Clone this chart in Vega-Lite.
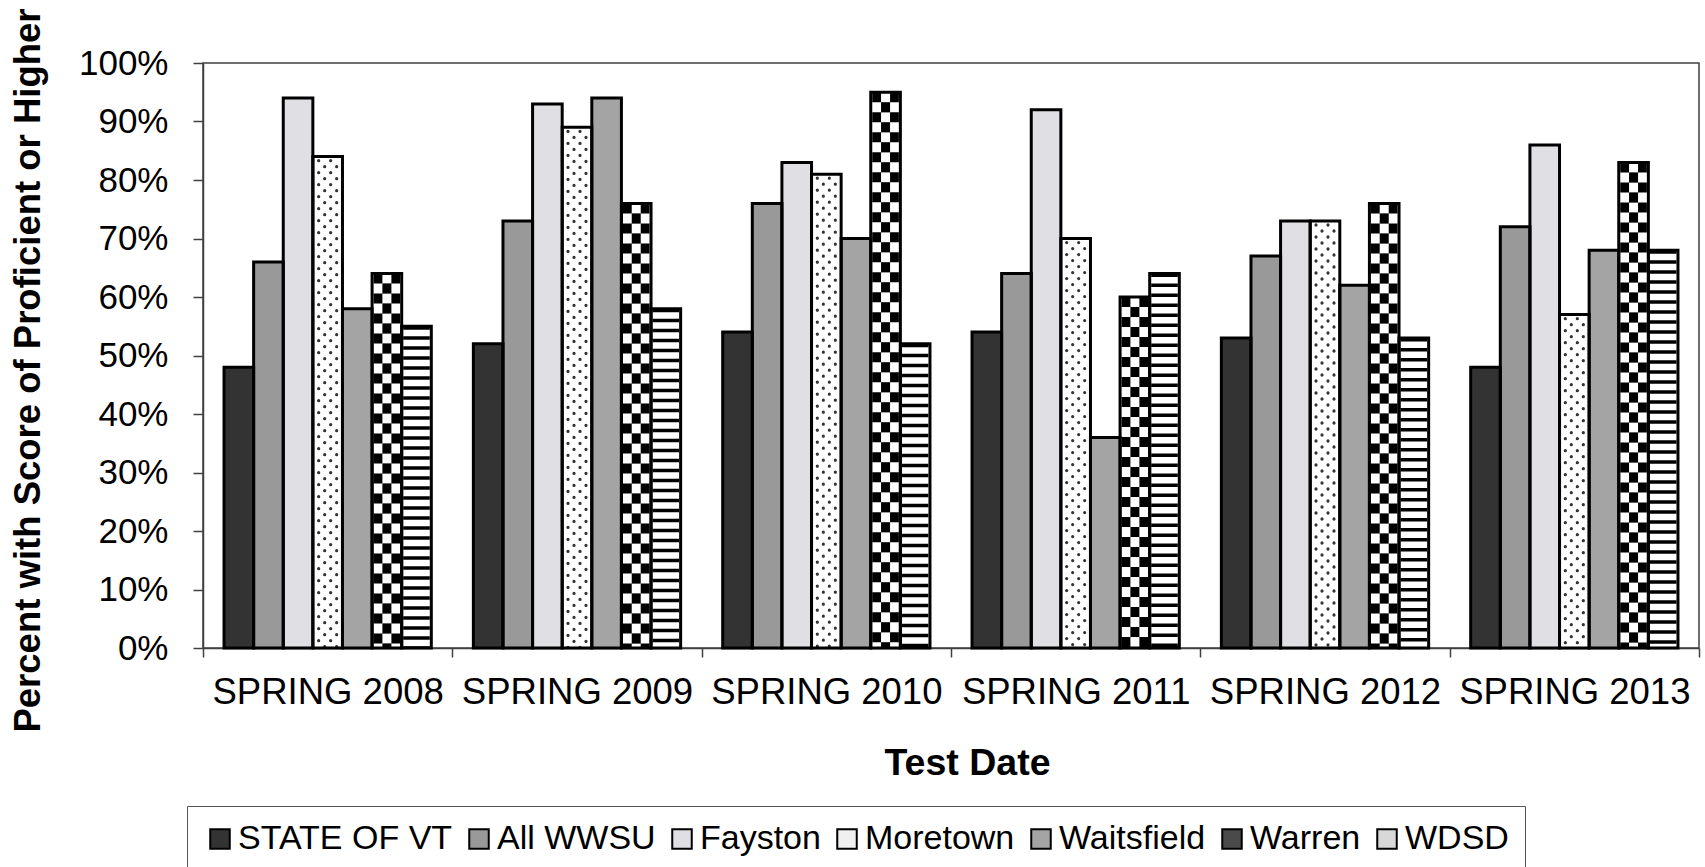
{
  "$schema": "https://vega.github.io/schema/vega-lite/v6.json",
  "autosize": "none",
  "width": 1496,
  "height": 585,
  "padding": {"left": 203, "top": 63, "right": 6, "bottom": 219},
  "background": "white",
  "config": {
    "font": "Liberation Sans",
    "view": {"stroke": "#404040", "strokeWidth": 1.5}
  },
  "data": {
    "values": [
      {"date": "SPRING 2008", "district": "STATE OF VT", "pct": 48},
      {"date": "SPRING 2008", "district": "All WWSU", "pct": 66},
      {"date": "SPRING 2008", "district": "Fayston", "pct": 94},
      {"date": "SPRING 2008", "district": "Moretown", "pct": 84},
      {"date": "SPRING 2008", "district": "Waitsfield", "pct": 58},
      {"date": "SPRING 2008", "district": "Warren", "pct": 64},
      {"date": "SPRING 2008", "district": "WDSD", "pct": 55},
      {"date": "SPRING 2009", "district": "STATE OF VT", "pct": 52},
      {"date": "SPRING 2009", "district": "All WWSU", "pct": 73},
      {"date": "SPRING 2009", "district": "Fayston", "pct": 93},
      {"date": "SPRING 2009", "district": "Moretown", "pct": 89},
      {"date": "SPRING 2009", "district": "Waitsfield", "pct": 94},
      {"date": "SPRING 2009", "district": "Warren", "pct": 76},
      {"date": "SPRING 2009", "district": "WDSD", "pct": 58},
      {"date": "SPRING 2010", "district": "STATE OF VT", "pct": 54},
      {"date": "SPRING 2010", "district": "All WWSU", "pct": 76},
      {"date": "SPRING 2010", "district": "Fayston", "pct": 83},
      {"date": "SPRING 2010", "district": "Moretown", "pct": 81},
      {"date": "SPRING 2010", "district": "Waitsfield", "pct": 70},
      {"date": "SPRING 2010", "district": "Warren", "pct": 95},
      {"date": "SPRING 2010", "district": "WDSD", "pct": 52},
      {"date": "SPRING 2011", "district": "STATE OF VT", "pct": 54},
      {"date": "SPRING 2011", "district": "All WWSU", "pct": 64},
      {"date": "SPRING 2011", "district": "Fayston", "pct": 92},
      {"date": "SPRING 2011", "district": "Moretown", "pct": 70},
      {"date": "SPRING 2011", "district": "Waitsfield", "pct": 36},
      {"date": "SPRING 2011", "district": "Warren", "pct": 60},
      {"date": "SPRING 2011", "district": "WDSD", "pct": 64},
      {"date": "SPRING 2012", "district": "STATE OF VT", "pct": 53},
      {"date": "SPRING 2012", "district": "All WWSU", "pct": 67},
      {"date": "SPRING 2012", "district": "Fayston", "pct": 73},
      {"date": "SPRING 2012", "district": "Moretown", "pct": 73},
      {"date": "SPRING 2012", "district": "Waitsfield", "pct": 62},
      {"date": "SPRING 2012", "district": "Warren", "pct": 76},
      {"date": "SPRING 2012", "district": "WDSD", "pct": 53},
      {"date": "SPRING 2013", "district": "STATE OF VT", "pct": 48},
      {"date": "SPRING 2013", "district": "All WWSU", "pct": 72},
      {"date": "SPRING 2013", "district": "Fayston", "pct": 86},
      {"date": "SPRING 2013", "district": "Moretown", "pct": 57},
      {"date": "SPRING 2013", "district": "Waitsfield", "pct": 68},
      {"date": "SPRING 2013", "district": "Warren", "pct": 83},
      {"date": "SPRING 2013", "district": "WDSD", "pct": 68}
    ]
  },
  "encoding": {
    "x": {
      "field": "date",
      "type": "nominal",
      "sort": null,
      "scale": {"type": "band", "paddingInner": 0, "paddingOuter": 0},
      "axis": {
        "title": "Test Date",
        "titleFontSize": 37.5,
        "titleFontWeight": "bold",
        "titleColor": "black",
        "titleX": 764,
        "titleY": 126,
        "titleBaseline": "alphabetic",
        "labelAngle": 0,
        "labelFontSize": 36.5,
        "labelColor": "black",
        "labelPadding": 17,
        "labelLimit": 400,
        "tickBand": "extent",
        "tickSize": 9,
        "tickColor": "#404040",
        "tickWidth": 1.5,
        "domainColor": "#404040",
        "domainWidth": 1.5
      }
    },
    "y": {
      "field": "pct",
      "type": "quantitative",
      "scale": {"domain": [0, 100]},
      "axis": {
        "title": "Percent with Score of Proficient or Higher",
        "titleFontSize": 36.5,
        "titleFontWeight": "bold",
        "titleColor": "black",
        "titleX": -175,
        "titleY": 307,
        "titleBaseline": "middle",
        "titleAngle": -90,
        "titleLimit": 1000,
        "values": [0, 10, 20, 30, 40, 50, 60, 70, 80, 90, 100],
        "labelExpr": "datum.value + '%'",
        "labelFontSize": 35,
        "labelColor": "black",
        "labelPadding": 25,
        "tickSize": 10,
        "tickColor": "#404040",
        "tickWidth": 1.5,
        "domainColor": "#404040",
        "domainWidth": 1.5,
        "grid": false
      }
    }
  },
  "layer": [
    {
      "mark": {"type": "bar", "strokeWidth": 0},
      "encoding": {
        "xOffset": {
          "field": "district", "type": "nominal",
          "sort": ["STATE OF VT", "All WWSU", "Fayston", "Moretown", "Waitsfield", "Warren", "WDSD"],
          "scale": {"type": "band", "paddingInner": 0, "paddingOuter": 0.71}
        },
        "fill": {
          "field": "district",
          "type": "nominal",
          "sort": ["STATE OF VT", "All WWSU", "Fayston", "Moretown", "Waitsfield", "Warren", "WDSD"],
          "scale": {
            "domain": ["STATE OF VT", "All WWSU", "Fayston", "Moretown", "Waitsfield", "Warren", "WDSD"],
            "range": ["#333333", "#999999", "#e0e0e4", "#f0f0f0", "#a4a4a4", "#4a4a4a", "#d8d8d8"]
          },
          "legend": {
            "title": null,
            "orient": "none",
            "legendX": -16,
            "legendY": 743,
            "direction": "horizontal",
            "gridAlign": "none",
            "symbolType": "square",
            "symbolSize": 380,
            "symbolStrokeColor": "black",
            "symbolStrokeWidth": 2,
            "symbolOpacity": 1,
            "labelFontSize": 34,
            "labelColor": "black",
            "labelOffset": 1,
            "labelLimit": 400,
            "columnPadding": 9,
            "padding": 16,
            "strokeColor": "#555555",
            "fillColor": "white"
          }
        }
      }
    },
    {
      "transform": [{"filter": {"field": "district", "oneOf": ["Moretown", "Warren", "WDSD"]}}],
      "mark": {"type": "bar", "color": "white", "strokeWidth": 0},
      "encoding": {
        "xOffset": {
          "field": "district", "type": "nominal",
          "sort": ["STATE OF VT", "All WWSU", "Fayston", "Moretown", "Waitsfield", "Warren", "WDSD"],
          "scale": {"type": "band", "paddingInner": 0, "paddingOuter": 0.71}
        }
      }
    },
    {
      "transform": [{"filter": {"field": "district", "equal": "WDSD"}}],
      "mark": {"type": "rule", "color": "black", "strokeWidth": 26.6, "strokeCap": "butt", "strokeDash": [3.5, 6.5]},
      "encoding": {
        "xOffset": {
          "field": "district", "type": "nominal",
          "sort": ["STATE OF VT", "All WWSU", "Fayston", "Moretown", "Waitsfield", "Warren", "WDSD"],
          "scale": {"type": "band", "paddingInner": 0, "paddingOuter": 0.71}
        },
        "y2": {"datum": 0}
      }
    },
    {
      "transform": [{"filter": {"field": "district", "equal": "Warren"}}],
      "mark": {"type": "rule", "color": "black", "strokeWidth": 26.6, "strokeCap": "butt", "strokeDash": [10, 10]},
      "encoding": {
        "xOffset": {
          "field": "district", "type": "nominal",
          "sort": ["STATE OF VT", "All WWSU", "Fayston", "Moretown", "Waitsfield", "Warren", "WDSD"],
          "scale": {"type": "band", "paddingInner": 0, "paddingOuter": 0.71}
        },
        "y2": {"datum": 0}
      }
    },
    {
      "transform": [{"filter": {"field": "district", "equal": "Warren"}}],
      "mark": {"type": "rule", "color": "white", "strokeWidth": 9, "strokeCap": "butt", "strokeDash": [10, 10]},
      "encoding": {
        "xOffset": {
          "field": "district", "type": "nominal",
          "sort": ["STATE OF VT", "All WWSU", "Fayston", "Moretown", "Waitsfield", "Warren", "WDSD"],
          "scale": {"type": "band", "paddingInner": 0, "paddingOuter": 0.71}
        },
        "y2": {"datum": 0}
      }
    },
    {
      "transform": [{"filter": {"field": "district", "equal": "Warren"}}],
      "mark": {"type": "rule", "color": "black", "strokeWidth": 9, "strokeCap": "butt", "strokeDash": [10, 10], "strokeDashOffset": 10},
      "encoding": {
        "xOffset": {
          "field": "district", "type": "nominal",
          "sort": ["STATE OF VT", "All WWSU", "Fayston", "Moretown", "Waitsfield", "Warren", "WDSD"],
          "scale": {"type": "band", "paddingInner": 0, "paddingOuter": 0.71}
        },
        "y2": {"datum": 0}
      }
    },
    {
      "transform": [{"filter": {"field": "district", "equal": "Moretown"}}],
      "mark": {"type": "rule", "color": "#333333", "strokeWidth": 3.2, "strokeCap": "round", "strokeDash": [0.1, 11.9], "strokeDashOffset": -4, "xOffset": -9},
      "encoding": {"y2": {"datum": 0}}
    },
    {
      "transform": [{"filter": {"field": "district", "equal": "Moretown"}}],
      "mark": {"type": "rule", "color": "#333333", "strokeWidth": 3.2, "strokeCap": "round", "strokeDash": [0.1, 11.9], "strokeDashOffset": -10, "xOffset": -3},
      "encoding": {"y2": {"datum": 0}}
    },
    {
      "transform": [{"filter": {"field": "district", "equal": "Moretown"}}],
      "mark": {"type": "rule", "color": "#333333", "strokeWidth": 3.2, "strokeCap": "round", "strokeDash": [0.1, 11.9], "strokeDashOffset": -4, "xOffset": 3},
      "encoding": {"y2": {"datum": 0}}
    },
    {
      "transform": [{"filter": {"field": "district", "equal": "Moretown"}}],
      "mark": {"type": "rule", "color": "#333333", "strokeWidth": 3.2, "strokeCap": "round", "strokeDash": [0.1, 11.9], "strokeDashOffset": -10, "xOffset": 9},
      "encoding": {"y2": {"datum": 0}}
    },
    {
      "mark": {"type": "bar", "filled": false, "stroke": "black", "strokeWidth": 3},
      "encoding": {
        "xOffset": {
          "field": "district", "type": "nominal",
          "sort": ["STATE OF VT", "All WWSU", "Fayston", "Moretown", "Waitsfield", "Warren", "WDSD"],
          "scale": {"type": "band", "paddingInner": 0, "paddingOuter": 0.71}
        }
      }
    }
  ]
}
